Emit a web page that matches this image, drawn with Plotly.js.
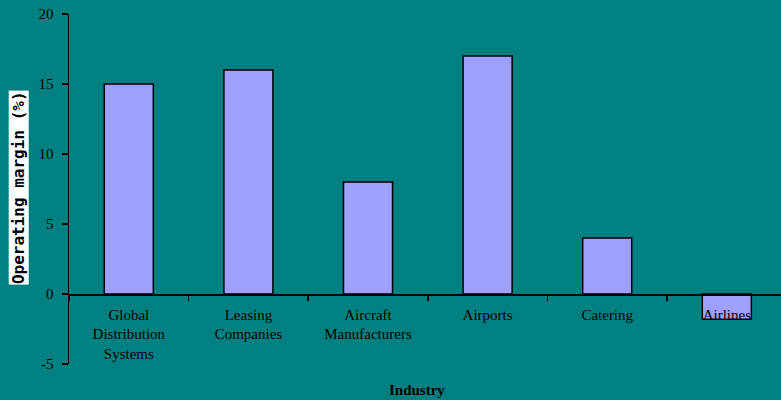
<!DOCTYPE html>
<html><head><meta charset="utf-8">
<script src="https://cdn.plot.ly/plotly-3.0.1.min.js"></script>
<style>html,body{margin:0;padding:0;background:#008080;}#c{width:781px;height:400px;}</style>
</head><body><div id="c"></div>
<script>
const categories = ["Global<br>Distribution<br>Systems", "Leasing<br>Companies", "Aircraft<br>Manufacturers", "Airports", "Catering", "Airlines"];
const margins = [15, 16, 8, 17, 4, -1.8];
const yTicks = [-5, 0, 5, 10, 15, 20];
const yTickText = ["-5", "0", "5", "10", "15", "20"];
const yTitle = "Operating margin (%)";
const xTitle = "Industry";

const trace = {
  type: 'bar', x: categories, y: margins, width: 0.41,
  marker: {color: '#9f9fff', line: {color: '#000', width: 1.5}},
  hoverinfo: 'none'
};
const layout = {
  width: 781, height: 400,
  paper_bgcolor: '#008080', plot_bgcolor: '#008080',
  margin: {l: 69, r: 0, t: 14, b: 36},
  showlegend: false,
  font: {family: '"Liberation Serif", "Times New Roman", serif', size: 15, color: '#000'},
  xaxis: {
    type: 'category', anchor: 'free', position: 0.2,
    showline: true, linecolor: '#000', linewidth: 1.5,
    ticks: 'outside', tickson: 'boundaries', ticklen: 5, tickcolor: '#000', tickwidth: 1.5,
    showgrid: false, zeroline: false, range: [-0.5, 5.453],
    ticklabelstandoff: 6,
    tickfont: {size: 15, color: '#000'}
  },
  yaxis: {
    range: [-5, 20], tickvals: yTicks, ticktext: yTickText,
    showline: true, linecolor: '#000', linewidth: 1.5,
    ticks: 'outside', ticklen: 6, tickcolor: '#000', tickwidth: 1.5,
    ticklabelstandoff: 5,
    showgrid: false, zeroline: false, tickfont: {size: 15, color: '#000'}
  },
  annotations: [
    {text: '<b>' + yTitle + '</b>', xref: 'paper', yref: 'paper', x: -0.07, y: 0.503,
     xanchor: 'center', yanchor: 'middle', textangle: -90, showarrow: false,
     bgcolor: '#ffffff', borderpad: 0,
     font: {family: '"DejaVu Sans Mono", monospace', size: 16, color: '#000'}},
    {text: '<b>' + xTitle + '</b>', xref: 'paper', yref: 'paper', x: 0.489, y: -0.074,
     xanchor: 'center', yanchor: 'middle', showarrow: false,
     font: {size: 15, color: '#000'}}
  ]
};
Plotly.newPlot('c', [trace], layout, {displayModeBar: false, staticPlot: true});
</script></body></html>
